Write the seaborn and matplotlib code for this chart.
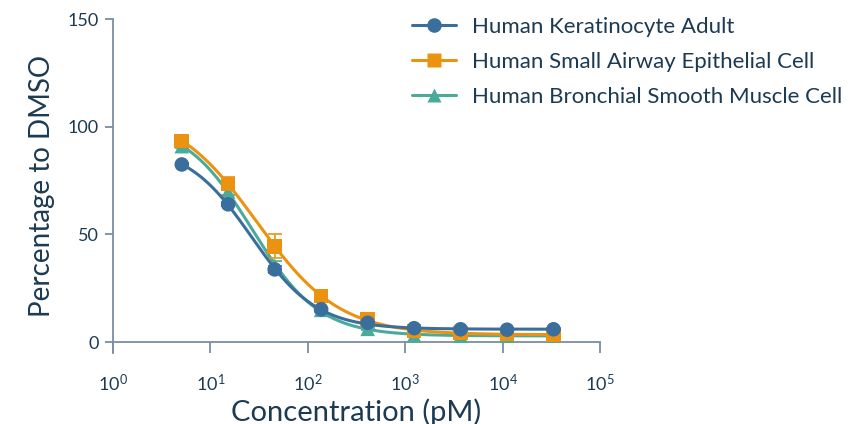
#!/usr/bin/env python3
"""
Dose-response curves: viability (% of DMSO) vs concentration, three cell types
"""

import numpy as np
import pandas as pd
import matplotlib
matplotlib.use('Agg')
import matplotlib.pyplot as plt
import seaborn as sns

# ---- data ----
concentration = [5.08, 15.2, 45.7, 137, 412, 1235, 3704, 11111, 33333]  # pM

keratinocyte = [82.5, 64.0, 33.8, 15.3, 9.0, 6.5, 6.0, 5.8, 6.0]
keratinocyte_err = [0.8, 1.0, 1.5, 0.8, 0.5, 0.3, 0.3, 0.3, 0.3]

airway = [93.5, 73.5, 44.5, 21.5, 10.5, 5.2, 4.2, 3.8, 3.5]
airway_err = [1.5, 3.0, 5.5, 2.5, 1.5, 0.5, 0.5, 0.4, 0.4]

bronchial = [91.0, 70.0, 35.5, 15.0, 6.2, 3.2, 3.0, 3.0, 3.0]
bronchial_err = [1.0, 1.5, 2.0, 1.0, 0.5, 0.3, 0.3, 0.3, 0.3]

series_names = ['Human Keratinocyte Adult',
                'Human Small Airway Epithelial Cell',
                'Human Bronchial Smooth Muscle Cell']
series_values = [keratinocyte, airway, bronchial]
series_errors = [keratinocyte_err, airway_err, bronchial_err]

colors = ['#3a6e9d', '#eb9310', '#4aab9a']
markers = ['o', 's', '^']
zorders = [5, 4, 3]

text_color = '#1c3a52'
axis_color = '#7d8ca3'


def four_pl(logx, p):
    bottom, top, logec, hill = p
    return bottom + (top - bottom) / (1 + 10 ** ((logx - logec) * hill))


def fit_four_pl(x, y):
    """Simple Levenberg-Marquardt fit of a 4-parameter logistic"""
    logx = np.log10(np.asarray(x, float))
    y = np.asarray(y, float)
    p = np.array([min(y), 100.0, np.log10(40.0), 1.5])
    lam = 1e-2
    for _ in range(300):
        r = y - four_pl(logx, p)
        J = np.zeros((len(y), 4))
        for k in range(4):
            dp = np.zeros(4)
            dp[k] = 1e-6
            J[:, k] = (four_pl(logx, p + dp) - four_pl(logx, p)) / 1e-6
        A = J.T @ J
        step = np.linalg.solve(A + lam * np.diag(np.diag(A)), J.T @ r)
        p_new = p + step
        if np.sum((y - four_pl(logx, p_new)) ** 2) < np.sum(r ** 2):
            p = p_new
            lam *= 0.3
        else:
            lam *= 5
    return p


sns.set_theme(style='ticks')
plt.rcParams['font.family'] = ['Lato', 'DejaVu Sans']
plt.rcParams['mathtext.fontset'] = 'custom'
plt.rcParams['mathtext.rm'] = 'Lato'
plt.rcParams['mathtext.it'] = 'Lato:italic'

fig = plt.figure(figsize=(8.53, 4.24), dpi=100)
ax = fig.add_axes([0.1325, 0.1675, 0.5709, 0.7875])

xs = np.logspace(np.log10(concentration[0]), np.log10(concentration[-1]), 300)

handles = []
for name, vals, errs, c, m, z in zip(series_names, series_values, series_errors,
                                     colors, markers, zorders):
    p = fit_four_pl(concentration, vals)
    curve = pd.DataFrame({'x': xs, 'y': four_pl(np.log10(xs), p)})
    sns.lineplot(data=curve, x='x', y='y', color=c, lw=2.2, ax=ax, zorder=z,
                 legend=False)
    ax.errorbar(concentration, vals, yerr=errs, fmt='none', ecolor=c,
                elinewidth=1.2, capsize=5, capthick=1.2, zorder=z)
    pts = pd.DataFrame({'x': concentration, 'y': vals})
    sns.scatterplot(data=pts, x='x', y='y', marker=m, color=c, s=110,
                    edgecolor='none', ax=ax, zorder=z + 0.5, legend=False)
    # legend proxy
    h, = ax.plot([], [], color=c, lw=2.2, marker=m, ms=10.5, mec='none')
    handles.append(h)

ax.set_xscale('log')
ax.set_xlim(1, 1e5)
ax.set_ylim(-5, 150)
ax.set_xticks([1, 10, 100, 1e3, 1e4, 1e5])
ax.set_xticklabels([r'$\mathregular{10^{%d}}$' % i for i in range(6)])
ax.xaxis.set_minor_locator(matplotlib.ticker.NullLocator())
ax.set_yticks([0, 50, 100, 150])

ax.spines['top'].set_visible(False)
ax.spines['right'].set_visible(False)
ax.spines['bottom'].set_position(('data', 0))
for s in ['left', 'bottom']:
    ax.spines[s].set_color(axis_color)
    ax.spines[s].set_linewidth(1.3)

ax.tick_params(axis='x', direction='out', length=8, width=1.3, color=axis_color,
               labelsize=13, labelcolor=text_color, pad=14)
ax.tick_params(axis='y', direction='out', length=6, width=1.3, color=axis_color,
               labelsize=13, labelcolor=text_color, pad=4)

ax.set_xlabel('Concentration (pM)', fontsize=21, color=text_color, labelpad=3)
ax.set_ylabel('Percentage to DMSO', fontsize=20, color=text_color, labelpad=9)

fig.legend(handles, series_names, loc='upper left',
           bbox_to_anchor=(0.459, 1.008), frameon=False,
           fontsize=16, labelcolor=text_color, handlelength=2.0,
           handletextpad=0.7, labelspacing=0.68)

fig.savefig('out.png', dpi=100)
